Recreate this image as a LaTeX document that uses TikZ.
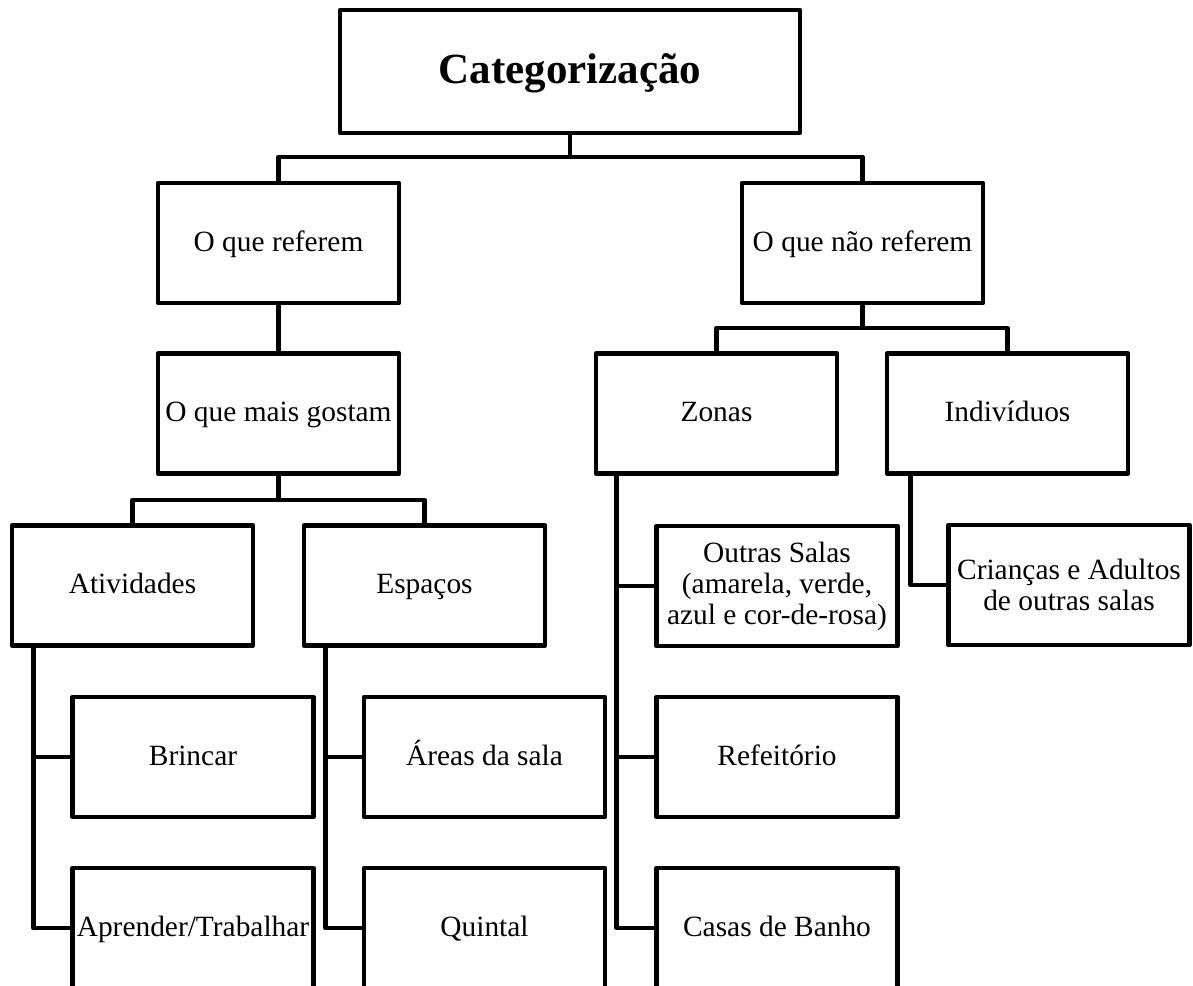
\documentclass[tikz,border=0pt]{standalone}
\usepackage{fontspec}
\setmainfont{Liberation Serif}
\usepackage{tikz}
\usetikzlibrary{calc, positioning}

\tikzset{
    catbox/.style={draw, line width=2.3pt, line join=round, inner sep=0pt, align=center,
        minimum width=120.5pt, minimum height=60pt, font=\fontsize{14.7}{15.5}\selectfont},
    onebox/.style={catbox, text height=13pt, text depth=5pt},
    link/.style={line width=2.3pt, line join=round}
}

\begin{document}
\begin{tikzpicture}[x=0.5pt, y=-0.5pt]
    \useasboundingbox (0,0) rectangle (1193,985);
    \clip (0,0) rectangle (1193,985);

\node[onebox, minimum width=230pt, minimum height=61.5pt, text height=16pt, text depth=4pt,
    font=\fontsize{21.5}{24}\selectfont\bfseries] (cat) at (570,71.5) {Categorização};

% first level
\node[onebox] (ref) at (278.5,243) {O que referem};
\node[onebox] (naoref) at (862.5,243) {O que não referem};

% second level
\node[onebox] (gostam) at (278.5,413.5) {O que mais gostam};
\node[onebox] (zonas) at (716.5,413.5) {Zonas};
\node[onebox] (indiv) at (1007.5,413.5) {Indivíduos};

% third level
\node[onebox] (ativ) at (132.5,585.5) {Atividades};
\node[onebox] (espacos) at (424.5,585.5) {Espaços};
\node[catbox] (outras) at (777,586) {Outras Salas\\(amarela, verde,\\azul e cor-de-rosa)};
\node[catbox] (criancas) at (1069,585) {Crianças e Adultos\\de outras salas};

\node[onebox] (brincar) at (193,757) {Brincar};
\node[onebox] (areas) at (484.5,757) {Áreas da sala};
\node[onebox] (refeit) at (777,757) {Refeitório};

\node[onebox] (aprender) at (193,928) {Aprender/Trabalhar};
\node[onebox] (quintal) at (484.5,928) {Quintal};
\node[onebox] (casas) at (777,928) {Casas de Banho};

% junctions
\coordinate (jcat) at (570,157);
\coordinate (jgostam) at (278.5,500);
\coordinate (jnaoref) at (862.5,328);

\draw[link] (cat.south) -- (jcat);
\draw[link] (ref.north) |- (jcat) -| (naoref.north);

\draw[link] (ref.south) -- (gostam.north);
\draw[link] (gostam.south) -- (jgostam);
\draw[link] (ativ.north) |- (jgostam) -| (espacos.north);

\draw[link] (naoref.south) -- (jnaoref);
\draw[link] (zonas.north) |- (jnaoref) -| (indiv.north);

% side branches
\draw[link] ($(ativ.south west)+(24,0)$) |- (aprender.west);
\draw[link] ($(ativ.south west)+(24,0)$) |- (brincar.west);
\draw[link] ($(espacos.south west)+(24,0)$) |- (quintal.west);
\draw[link] ($(espacos.south west)+(24,0)$) |- (areas.west);
\draw[link] ($(zonas.south west)+(23,0)$) |- (casas.west);
\draw[link] ($(zonas.south west)+(23,0)$) |- (refeit.west);
\draw[link] ($(zonas.south west)+(23,0)$) |- (outras.west);
\draw[link] ($(indiv.south west)+(26,0)$) |- (criancas.west);

\end{tikzpicture}
\end{document}
